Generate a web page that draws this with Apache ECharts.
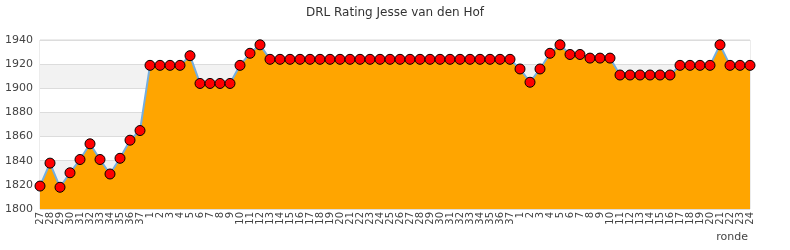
<!DOCTYPE html>
<html>
<head>
<meta charset="utf-8">
<script src="https://cdn.jsdelivr.net/npm/echarts@6/dist/echarts.min.js"></script>
<style>html,body{margin:0;padding:0;background:#fff;}#c{width:790px;height:250px;}</style>
</head>
<body>
<div id="c"></div>
<script>
var titleText = 'DRL Rating Jesse van den Hof';
var axisName = 'ronde';
var rounds = ['27','28','29','30','31','32','33','34','35','36','37',
  '1','2','3','4','5','6','7','8','9','10','11','12','13','14','15','16','17','18','19','20','21','22','23','24','25','26','27','28','29','30','31','32','33','34','35','36','37',
  '1','2','3','4','5','6','7','8','9','10','11','12','13','14','15','16','17','18','19','20','21','22','23','24'];
var ratings = [1819,1838,1818,1830,1841,1854,1841,1829,1842,1857,1865,
  1919,1919,1919,1919,1927,1904,1904,1904,1904,1919,1929,1936,1924,1924,1924,1924,1924,1924,1924,1924,1924,1924,1924,1924,1924,1924,1924,1924,1924,1924,1924,1924,1924,1924,1924,1924,1924,
  1916,1905,1916,1929,1936,1928,1928,1925,1925,1925,1911,1911,1911,1911,1911,1911,1919,1919,1919,1919,1936,1919,1919,1919];
var yTicks = {min: 1800, max: 1940, interval: 20};

var chart = echarts.init(document.getElementById('c'), null, {renderer: 'canvas'});
chart.setOption({
  animation: false,
  textStyle: {fontFamily: 'DejaVu Sans'},
  title: {
    text: titleText, left: 'center', top: 2,
    textStyle: {fontFamily: 'DejaVu Sans', fontSize: 12, fontWeight: 'normal', color: '#333'}
  },
  grid: {left: 40, right: 40, top: 40, bottom: 41, show: true, borderColor: '#d9d9d9', borderWidth: 1},
  xAxis: {
    type: 'category', data: rounds, boundaryGap: false,
    axisLine: {show: false}, axisTick: {show: false},
    axisLabel: {interval: 0, rotate: 90, fontSize: 10, color: '#444', margin: 3}
  },
  yAxis: {
    type: 'value', min: yTicks.min, max: yTicks.max, interval: yTicks.interval,
    axisLine: {show: false}, axisTick: {show: false},
    axisLabel: {fontSize: 11, color: '#444', margin: 7, formatter: function (v) { return String(v); }},
    splitLine: {show: true, lineStyle: {color: '#dcdcdc'}},
    splitArea: {show: true, areaStyle: {color: ['#ffffff', '#f2f2f2']}}
  },
  graphic: [{type: 'text', right: 42, top: 232, style: {text: axisName, fontFamily: 'DejaVu Sans', fontSize: 11, fill: '#444'}}],
  series: [{
    type: 'line', data: ratings,
    symbol: 'circle', symbolSize: 10, showAllSymbol: true,
    lineStyle: {color: '#74aee0', width: 2},
    itemStyle: {color: '#ff0000', borderColor: '#000', borderWidth: 1},
    areaStyle: {color: '#ffa500', opacity: 1}
  }]
});
</script>
</body>
</html>
